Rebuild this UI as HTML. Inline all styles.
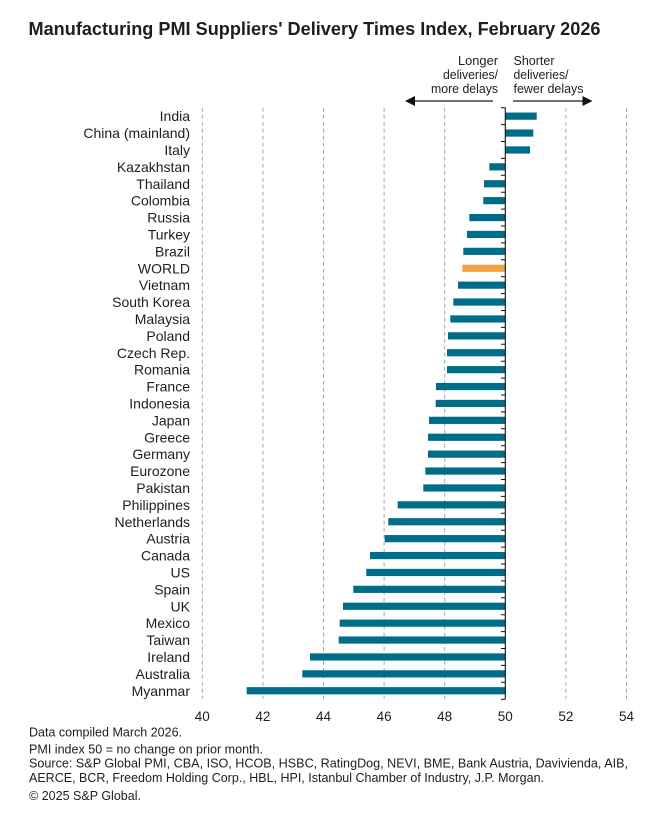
<!DOCTYPE html>
<html>
<head>
<meta charset="utf-8">
<style>
html,body{margin:0;padding:0;background:#fff;}
svg{display:block;}
text{font-family:"Liberation Sans",Arial,sans-serif;fill:#1e1e1e;}
</style>
</head>
<body>
<svg width="660" height="820" viewBox="0 0 660 820" xmlns="http://www.w3.org/2000/svg">
<rect width="660" height="820" fill="#fff"/>
<!-- Title -->
<text x="28.5" y="35" font-size="18" font-weight="bold" fill="#111" textLength="572" lengthAdjust="spacingAndGlyphs">Manufacturing PMI Suppliers' Delivery Times Index, February 2026</text>

<!-- Arrow annotations -->
<g font-size="13">
<text x="498" y="65" text-anchor="end" textLength="40" lengthAdjust="spacingAndGlyphs">Longer</text>
<text x="498" y="79" text-anchor="end" textLength="55" lengthAdjust="spacingAndGlyphs">deliveries/</text>
<text x="498" y="93" text-anchor="end" textLength="67" lengthAdjust="spacingAndGlyphs">more delays</text>
<text x="513.5" y="65" textLength="41" lengthAdjust="spacingAndGlyphs">Shorter</text>
<text x="513.5" y="79" textLength="55" lengthAdjust="spacingAndGlyphs">deliveries/</text>
<text x="513.5" y="93" textLength="70" lengthAdjust="spacingAndGlyphs">fewer delays</text>
</g>
<g stroke="#1e1e1e" stroke-width="1.2">
<line x1="414" y1="101" x2="493" y2="101"/>
<line x1="513" y1="101" x2="583" y2="101"/>
</g>
<polygon points="405,101 415,96 415,106" fill="#111"/>
<polygon points="592.5,101 582.5,96 582.5,106" fill="#111"/>

<!-- Gridlines -->
<g stroke="#a6a6a6" stroke-width="1" stroke-dasharray="4,3">
<line x1="202.3" y1="107.7" x2="202.3" y2="699"/>
<line x1="262.9" y1="107.7" x2="262.9" y2="699"/>
<line x1="323.5" y1="107.7" x2="323.5" y2="699"/>
<line x1="384.1" y1="107.7" x2="384.1" y2="699"/>
<line x1="444.7" y1="107.7" x2="444.7" y2="699"/>
<line x1="565.9" y1="107.7" x2="565.9" y2="699"/>
<line x1="626.5" y1="107.7" x2="626.5" y2="699"/>
</g>

<!-- Bars -->
<g fill="#006d88">
<rect x="505.3" y="112.55" width="31.4" height="7.2"/>
<rect x="505.3" y="129.45" width="28" height="7.2"/>
<rect x="505.3" y="146.35" width="24.7" height="7.2"/>
<rect x="489.3" y="163.25" width="16" height="7.2"/>
<rect x="484" y="180.15" width="21.3" height="7.2"/>
<rect x="483.3" y="197.05" width="22" height="7.2"/>
<rect x="469.3" y="213.95" width="36" height="7.2"/>
<rect x="467" y="230.85" width="38.3" height="7.2"/>
<rect x="463.3" y="247.75" width="42" height="7.2"/>
<rect x="458" y="281.55" width="47.3" height="7.2"/>
<rect x="453.3" y="298.45" width="52" height="7.2"/>
<rect x="450.3" y="315.35" width="55" height="7.2"/>
<rect x="448" y="332.25" width="57.3" height="7.2"/>
<rect x="447" y="349.15" width="58.3" height="7.2"/>
<rect x="447" y="366.05" width="58.3" height="7.2"/>
<rect x="436" y="382.95" width="69.3" height="7.2"/>
<rect x="435.7" y="399.85" width="69.6" height="7.2"/>
<rect x="429" y="416.75" width="76.3" height="7.2"/>
<rect x="428" y="433.65" width="77.3" height="7.2"/>
<rect x="428" y="450.55" width="77.3" height="7.2"/>
<rect x="425.3" y="467.45" width="80" height="7.2"/>
<rect x="423.3" y="484.35" width="82" height="7.2"/>
<rect x="397.7" y="501.25" width="107.6" height="7.2"/>
<rect x="388.3" y="518.15" width="117" height="7.2"/>
<rect x="384.7" y="535.05" width="120.6" height="7.2"/>
<rect x="370" y="551.95" width="135.3" height="7.2"/>
<rect x="366.3" y="568.85" width="139" height="7.2"/>
<rect x="353.3" y="585.75" width="152" height="7.2"/>
<rect x="343" y="602.65" width="162.3" height="7.2"/>
<rect x="339.7" y="619.55" width="165.6" height="7.2"/>
<rect x="338.7" y="636.45" width="166.6" height="7.2"/>
<rect x="310" y="653.35" width="195.3" height="7.2"/>
<rect x="302.3" y="670.25" width="203" height="7.2"/>
<rect x="246.7" y="687.15" width="258.6" height="7.2"/>
</g>
<rect x="462.3" y="264.65" width="43" height="7.2" fill="#f2a444"/>

<!-- Axis at 50 -->
<line x1="505.3" y1="107.7" x2="505.3" y2="699.2" stroke="#111" stroke-width="1.1"/>
<path stroke="#111" stroke-width="1" fill="none" d="M501,107.7H505.3M501,124.6H505.3M501,141.5H505.3M501,158.4H505.3M501,175.3H505.3M501,192.2H505.3M501,209.1H505.3M501,226H505.3M501,242.9H505.3M501,259.8H505.3M501,276.7H505.3M501,293.6H505.3M501,310.5H505.3M501,327.4H505.3M501,344.3H505.3M501,361.2H505.3M501,378.1H505.3M501,395H505.3M501,411.9H505.3M501,428.8H505.3M501,445.7H505.3M501,462.6H505.3M501,479.5H505.3M501,496.4H505.3M501,513.3H505.3M501,530.2H505.3M501,547.1H505.3M501,564H505.3M501,580.9H505.3M501,597.8H505.3M501,614.7H505.3M501,631.6H505.3M501,648.5H505.3M501,665.4H505.3M501,682.3H505.3M501,699.2H505.3"/>

<!-- Category labels -->
<g font-size="14" text-anchor="end" fill="#222">
<text x="190" y="121.15">India</text>
<text x="190" y="138.05">China (mainland)</text>
<text x="190" y="154.95">Italy</text>
<text x="190" y="171.85">Kazakhstan</text>
<text x="190" y="188.75">Thailand</text>
<text x="190" y="205.65">Colombia</text>
<text x="190" y="222.55">Russia</text>
<text x="190" y="239.45">Turkey</text>
<text x="190" y="256.35">Brazil</text>
<text x="190" y="273.25">WORLD</text>
<text x="190" y="290.15">Vietnam</text>
<text x="190" y="307.05">South Korea</text>
<text x="190" y="323.95">Malaysia</text>
<text x="190" y="340.85">Poland</text>
<text x="190" y="357.75">Czech Rep.</text>
<text x="190" y="374.65">Romania</text>
<text x="190" y="391.55">France</text>
<text x="190" y="408.45">Indonesia</text>
<text x="190" y="425.35">Japan</text>
<text x="190" y="442.25">Greece</text>
<text x="190" y="459.15">Germany</text>
<text x="190" y="476.05">Eurozone</text>
<text x="190" y="492.95">Pakistan</text>
<text x="190" y="509.85">Philippines</text>
<text x="190" y="526.75">Netherlands</text>
<text x="190" y="543.65">Austria</text>
<text x="190" y="560.55">Canada</text>
<text x="190" y="577.45">US</text>
<text x="190" y="594.35">Spain</text>
<text x="190" y="611.25">UK</text>
<text x="190" y="628.15">Mexico</text>
<text x="190" y="645.05">Taiwan</text>
<text x="190" y="661.95">Ireland</text>
<text x="190" y="678.85">Australia</text>
<text x="190" y="695.75">Myanmar</text>
</g>

<!-- X tick labels -->
<g font-size="13.5" text-anchor="middle" fill="#222">
<text x="202.3" y="721">40</text>
<text x="262.9" y="721">42</text>
<text x="323.5" y="721">44</text>
<text x="384.1" y="721">46</text>
<text x="444.7" y="721">48</text>
<text x="505.3" y="721">50</text>
<text x="565.9" y="721">52</text>
<text x="626.5" y="721">54</text>
</g>

<!-- Footer -->
<g font-size="12.5" fill="#222">
<text x="29" y="736.5" textLength="153" lengthAdjust="spacingAndGlyphs">Data compiled March 2026.</text>
<text x="29" y="753.5" textLength="234" lengthAdjust="spacingAndGlyphs">PMI index 50 = no change on prior month.</text>
<text x="29" y="767.5" textLength="599" lengthAdjust="spacingAndGlyphs">Source: S&amp;P Global PMI, CBA, ISO, HCOB, HSBC, RatingDog, NEVI, BME, Bank Austria, Davivienda, AIB,</text>
<text x="29" y="782" textLength="515" lengthAdjust="spacingAndGlyphs">AERCE, BCR, Freedom Holding Corp., HBL, HPI, Istanbul Chamber of Industry, J.P. Morgan.</text>
<text x="29" y="800" textLength="112" lengthAdjust="spacingAndGlyphs">© 2025 S&amp;P Global.</text>
</g>
</svg>
</body>
</html>
